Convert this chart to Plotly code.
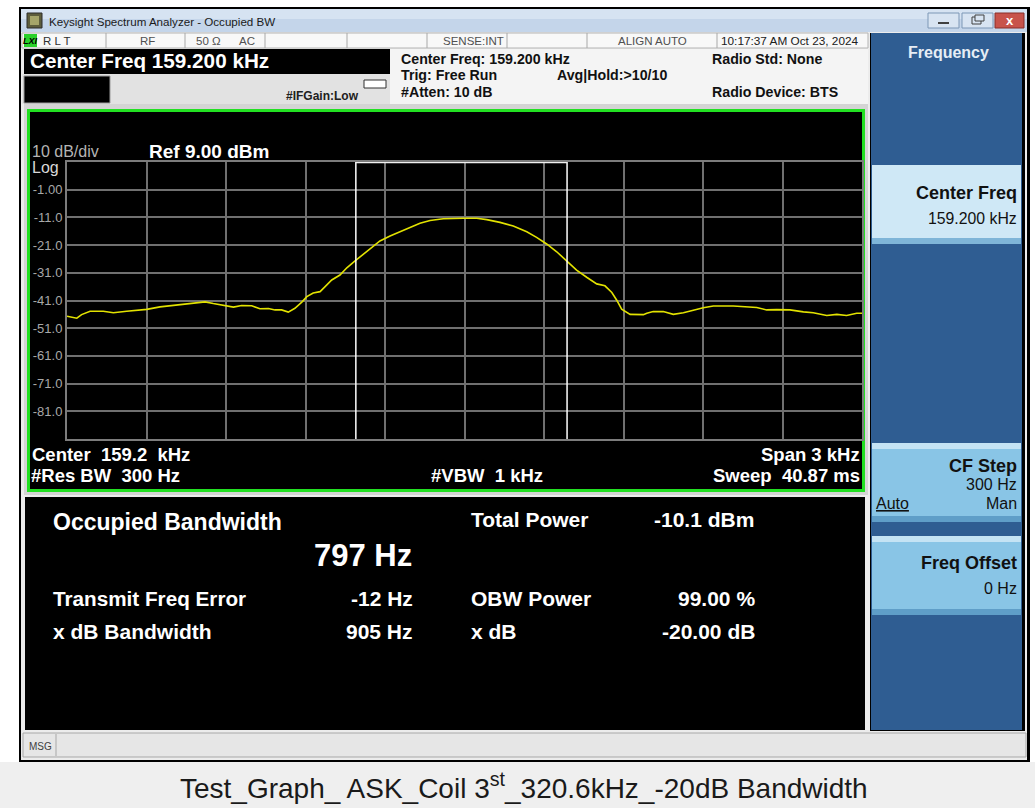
import plotly.graph_objects as go

# ---------------- data ----------------
freq_khz = [157.700, 157.737, 157.755, 157.787, 157.837, 157.875, 157.925, 158.001,
            158.051, 158.101, 158.152, 158.189, 158.221, 158.252, 158.290, 158.328,
            158.359, 158.397, 158.428, 158.460, 158.485, 158.510, 158.535, 158.560,
            158.586, 158.605, 158.629, 158.655, 158.674, 158.699, 158.730, 158.756,
            158.787, 158.818, 158.850, 158.881, 158.919, 158.957, 158.994, 159.032,
            159.070, 159.120, 159.196, 159.246, 159.284, 159.334, 159.384, 159.435,
            159.472, 159.510, 159.548, 159.586, 159.623, 159.661, 159.699, 159.730,
            159.756, 159.774, 159.793, 159.825, 159.875, 159.888, 159.912, 159.950,
            159.988, 160.026, 160.063, 160.101, 160.139, 160.214, 160.303, 160.340,
            160.378, 160.428, 160.479, 160.516, 160.567, 160.605, 160.642, 160.680,
            160.700]
level_dbm = [-46.7, -47.4, -46.1, -44.9, -44.9, -45.4, -44.9, -44.2,
             -43.3, -42.7, -42.1, -41.8, -41.5, -42.1, -42.7, -43.4,
             -42.8, -42.9, -44.0, -43.9, -44.4, -44.4, -45.2, -43.8,
             -41.6, -39.6, -38.3, -37.8, -36.0, -33.6, -31.8, -29.2,
             -26.7, -24.3, -21.9, -19.5, -17.7, -16.2, -14.7, -13.1,
             -12.1, -11.5, -11.3, -11.3, -11.8, -12.8, -14.1, -16.2,
             -18.2, -20.6, -23.4, -26.6, -30.0, -32.6, -35.0, -35.7,
             -38.1, -40.8, -44.1, -46.0, -46.1, -45.6, -45.0, -45.0,
             -46.0, -45.4, -44.4, -43.6, -43.0, -43.0, -43.5, -44.4,
             -44.3, -44.4, -45.1, -45.4, -46.4, -46.0, -46.4, -45.6,
             -45.6]
obw_edges_khz = [158.790, 159.587]
center_khz = 159.2
span_khz = 3.0
ref_level_dbm = 9.0
db_per_div = 10.0
y_tick_vals = [-1, -11, -21, -31, -41, -51, -61, -71, -81]
y_tick_text = ["-1.00", "-11.0", "-21.0", "-31.0", "-41.0", "-51.0", "-61.0", "-71.0", "-81.0"]
x_grid_khz = [158.0, 158.3, 158.6, 158.9, 159.2, 159.5, 159.8, 160.1, 160.4]

# ---------------- helpers (pixel layout of the screenshot) ----------------
W, H = 1035, 808
FONT = "Liberation Sans, Arial, sans-serif"


def px(x):
    return x / W


def py(y):
    return 1 - y / H


shapes = []
annotations = []


def rect(x0, y0, x1, y1, fill, line=None, lw=1, layer="below"):
    shapes.append(dict(type="rect", xref="paper", yref="paper",
                       x0=px(x0), x1=px(x1), y0=py(y1), y1=py(y0),
                       fillcolor=fill, layer=layer,
                       line=dict(color=line if line else fill, width=lw if line else 0)))


def seg(x0, y0, x1, y1, color, lw=1, layer="below"):
    shapes.append(dict(type="line", xref="paper", yref="paper",
                       x0=px(x0), x1=px(x1), y0=py(y0), y1=py(y1),
                       layer=layer, line=dict(color=color, width=lw)))


def text(s, x, y, size, color="#ffffff", bold=False, anchor="left", family=FONT):
    annotations.append(dict(text=f"<b>{s}</b>" if bold else s,
                            xref="paper", yref="paper", x=px(x), y=py(y),
                            xanchor=anchor, yanchor="middle", showarrow=False,
                            borderpad=0, font=dict(size=size, color=color, family=family)))


# ---------------- window chrome ----------------
rect(0, 762, 1035, 808, "#efefef")                  # caption strip
rect(19, 7, 1030, 762, "#000000")                   # outer black frame
rect(21, 9, 1027, 760, "#ececec")                   # window body
rect(21, 9, 1027, 32, "#c4d5ea")                    # title bar
rect(21, 9, 1027, 19, "#d6e3f2")
rect(27, 13, 42, 28, "#5d5d3c", line="#2d2d2d")     # app icon
rect(30, 16, 39, 25, "#a5a56a")
text("Keysight Spectrum Analyzer - Occupied BW", 48, 21, 11.6, "#1a1a1a")
rect(928, 13, 959, 28, "#d8e4f2", line="#7d97b6")   # minimize
seg(938, 23, 949, 23, "#404040", 2)
rect(962, 13, 993, 28, "#d8e4f2", line="#7d97b6")   # restore
rect(972, 17, 981, 24, "#d8e4f2", line="#404040")
rect(975, 15, 984, 21, "#d8e4f2", line="#404040")
rect(995, 13, 1024, 28, "#c8534b", line="#8a2f2a")  # close
text("x", 1009.5, 20, 13, "#ffffff", bold=True, anchor="center")

# status row
rect(22, 33, 868, 48, "#f8f8f8", line="#b4b4b4")
for sx in [106, 185, 265, 347, 427, 507, 587, 717]:
    seg(sx, 33, sx, 48, "#a8a8a8", 1)
rect(24, 34, 37, 47, "#2ad02a")
text("<i>LXI</i>", 30.5, 41, 9, "#000000", bold=True, anchor="center")
text("R L T", 42, 41, 11.5, "#303030")
text("RF", 147, 41, 11.5, "#505050", anchor="center")
text("50 Ω", 195, 41, 11.5, "#505050")
text("AC", 238, 41, 11.5, "#505050")
text("SENSE:INT", 505, 41, 11.5, "#505050", anchor="right")
text("ALIGN AUTO", 688, 41, 11.5, "#505050", anchor="right")
text("10:17:37 AM Oct 23, 2024", 720, 41, 11.8, "#202020")

# header info
rect(390, 49, 868, 104, "#f4f4f4")
rect(22, 74, 390, 104, "#e2e2e2")
rect(24, 49, 390, 74, "#000000")
text("Center Freq 159.200 kHz", 29, 61, 20.7, "#ffffff", bold=True)
rect(24, 76, 110, 103, "#000000", line="#9a9a9a")
rect(364, 80, 386, 88, "#ffffff", line="#303030")
text("#IFGain:Low", 285, 96, 12, "#202020", bold=True)
text("Center Freq: 159.200 kHz", 400, 59, 14.2, "#111111", bold=True)
text("Trig: Free Run", 400, 75, 14.2, "#111111", bold=True)
text("#Atten: 10 dB", 400, 92, 14.2, "#111111", bold=True)
text("Avg|Hold:&gt;10/10", 556, 75, 14.2, "#111111", bold=True)
text("Radio Std: None", 711, 59, 14.2, "#111111", bold=True)
text("Radio Device: BTS", 711, 92, 14.2, "#111111", bold=True)

# plot panel frame
rect(24, 104, 868, 495, "#d4d4d4")
rect(27, 109, 865, 492, "#22e022")
rect(30, 112, 862, 489, "#000000")
text("10 dB/div", 31, 152, 16, "#b4b4b4")
text("Log", 31, 168, 16, "#d8d8d8")
text("Ref 9.00 dBm", 148, 151, 19, "#ffffff", bold=True)
text("Center&#160; 159.2&#160; kHz", 31, 454, 18.5, "#ffffff", bold=True)
text("#Res BW&#160; 300 Hz", 30, 475, 18.5, "#ffffff", bold=True)
text("#VBW&#160; 1 kHz", 430, 475, 18.5, "#ffffff", bold=True)
text("Span 3 kHz", 861, 454, 18.5, "#ffffff", bold=True, anchor="right")
text("Sweep&#160; 40.87 ms", 861, 475, 18.5, "#ffffff", bold=True, anchor="right")

# results panel
rect(25, 497, 865, 730, "#000000")
text("Occupied Bandwidth", 52, 522, 23, "#ffffff", bold=True)
text("797 Hz", 313, 555, 31, "#ffffff", bold=True)
text("Total Power", 470, 519, 21, "#ffffff", bold=True)
text("-10.1 dBm", 755, 519, 21, "#ffffff", bold=True, anchor="right")
text("Transmit Freq Error", 52, 598, 20.7, "#ffffff", bold=True)
text("-12 Hz", 414, 598, 21, "#ffffff", bold=True, anchor="right")
text("OBW Power", 470, 598, 21, "#ffffff", bold=True)
text("99.00 %", 756, 598, 21, "#ffffff", bold=True, anchor="right")
text("x dB Bandwidth", 52, 631, 21, "#ffffff", bold=True)
text("905 Hz", 414, 631, 21, "#ffffff", bold=True, anchor="right")
text("x dB", 470, 631, 21, "#ffffff", bold=True)
text("-20.00 dB", 756, 631, 21, "#ffffff", bold=True, anchor="right")

# message bar
rect(23, 733, 1026, 757, "#e6e6e6", line="#a8a8a8")
seg(56, 734, 56, 756, "#a8a8a8", 1)
text("MSG", 28, 746, 10, "#404040")

# right softkey panel
rect(870, 33, 1025, 731, "#000000")
rect(871, 33, 1022, 730, "#2f5d92")
text("Frequency", 948, 53, 16, "#e6edf5", bold=True, anchor="center")
rect(872, 165, 1021, 244, "#cfe8f6")
rect(872, 238, 1021, 244, "#7fb5d8")
text("Center Freq", 1018, 193, 18, "#111111", bold=True, anchor="right")
text("159.200 kHz", 1018, 218, 15.8, "#111111", anchor="right")
rect(872, 443, 1021, 522, "#89c5e6")
rect(872, 443, 1021, 449, "#c4e3f4")
rect(872, 516, 1021, 522, "#5f9ec8")
text("CF Step", 1018, 466, 18, "#111111", bold=True, anchor="right")
text("300 Hz", 1018, 484, 16, "#111111", anchor="right")
text("<u>Auto</u>", 875, 503, 16, "#111111")
text("Man", 1018, 503, 16, "#111111", anchor="right")
rect(872, 536, 1021, 615, "#89c5e6")
rect(872, 536, 1021, 542, "#c4e3f4")
rect(872, 609, 1021, 615, "#5f9ec8")
text("Freq Offset", 1018, 563, 18, "#111111", bold=True, anchor="right")
text("0 Hz", 1018, 588, 16, "#111111", anchor="right")

# caption
text("Test_Graph_ ASK_Coil 3<sup>st</sup>_320.6kHz_-20dB Bandwidth", 524, 786, 28, "#1a1a1a", anchor="center")

# ---------------- trace + OBW markers ----------------
bottom_dbm = ref_level_dbm - 10 * db_per_div
fig = go.Figure()
fig.add_trace(go.Scatter(x=freq_khz, y=level_dbm, mode="lines",
                         line=dict(color="#e2e200", width=1.6), hoverinfo="skip"))

for f in obw_edges_khz:
    shapes.append(dict(type="line", xref="x", yref="y", x0=f, x1=f,
                       y0=bottom_dbm, y1=ref_level_dbm, layer="above",
                       line=dict(color="#ffffff", width=1.5)))
shapes.append(dict(type="line", xref="x", yref="y", x0=obw_edges_khz[0], x1=obw_edges_khz[1],
                   y0=ref_level_dbm, y1=ref_level_dbm, layer="above",
                   line=dict(color="#f0f0f0", width=2.5)))

fig.update_layout(
    width=W, height=H, autosize=False,
    margin=dict(l=0, r=0, t=0, b=0, pad=0),
    paper_bgcolor="#ffffff", plot_bgcolor="#000000",
    showlegend=False,
    shapes=shapes, annotations=annotations,
    font=dict(family=FONT),
    xaxis=dict(domain=[px(67), px(862)],
               range=[center_khz - span_khz / 2, center_khz + span_khz / 2],
               tickvals=x_grid_khz, showticklabels=False, ticks="",
               showgrid=True, gridcolor="#707070", gridwidth=1.6,
               showline=True, linecolor="#7c7c7c", linewidth=2, mirror=True,
               zeroline=False, fixedrange=True),
    yaxis=dict(domain=[py(439), py(162)],
               range=[bottom_dbm, ref_level_dbm],
               tickvals=y_tick_vals, ticktext=y_tick_text, ticks="",
               tickfont=dict(size=13, color="#a8a8a8", family=FONT),
               showgrid=True, gridcolor="#707070", gridwidth=1.6,
               showline=True, linecolor="#7c7c7c", linewidth=2, mirror=True,
               zeroline=False, fixedrange=True),
)

fig.write_html("out.html", config={"displayModeBar": False},
               post_script="document.body.style.margin='0px';document.body.style.overflow='hidden';")
